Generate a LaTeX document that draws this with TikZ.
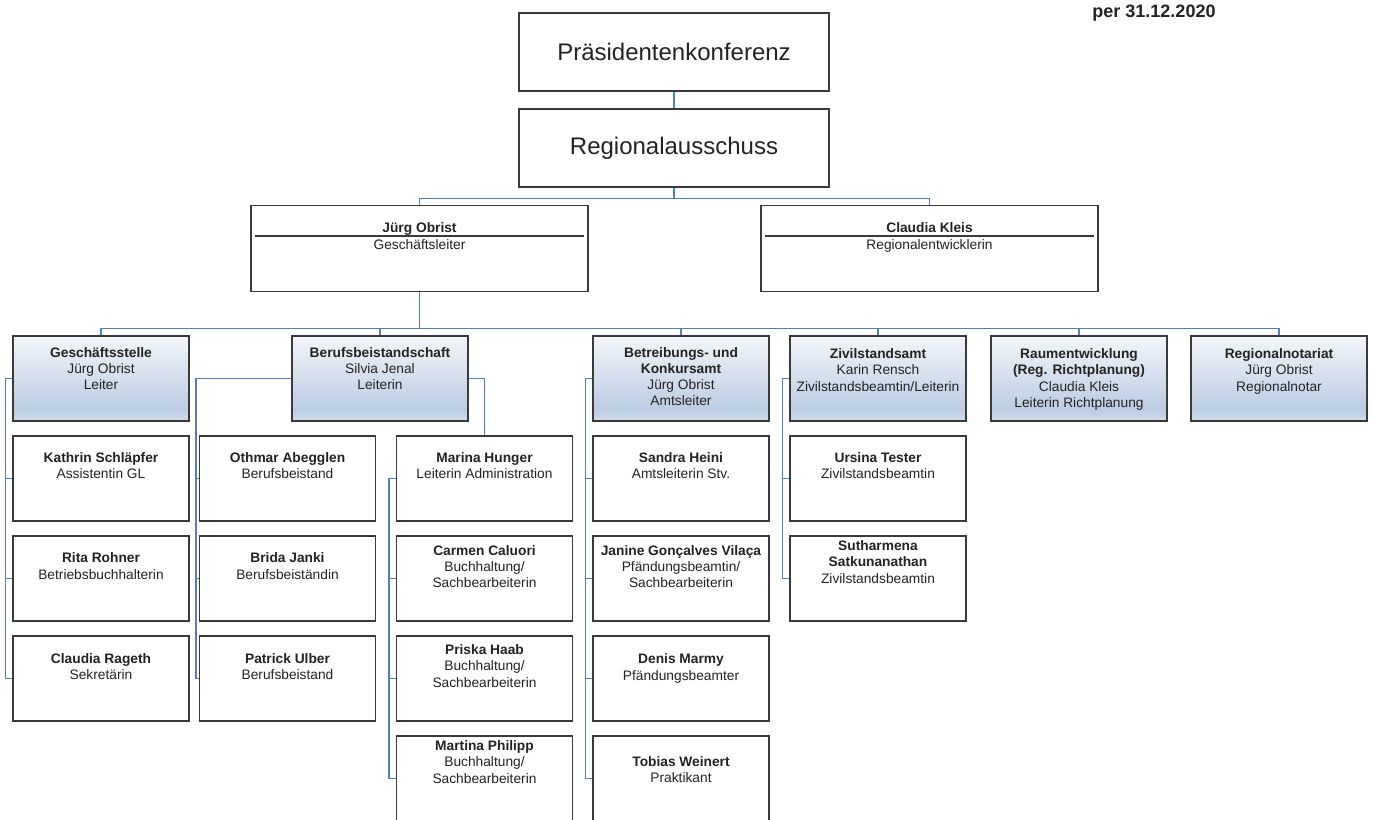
\documentclass[tikz,border=0pt]{standalone}
\usepackage{fontspec}
\setmainfont{Liberation Sans}

\definecolor{boxgray}{RGB}{58,58,58}
\definecolor{inkgray}{RGB}{35,35,35}
\definecolor{linkblue}{RGB}{79,129,189}
\definecolor{hdrtop}{RGB}{243,246,250}
\definecolor{hdrmid}{RGB}{188,204,226}
\definecolor{hdrbot}{RGB}{210,221,236}
\pgfdeclareverticalshading{hdrshade}{100bp}{color(0bp)=(hdrbot); color(25bp)=(hdrbot); color(32bp)=(hdrmid); color(75bp)=(hdrtop); color(100bp)=(hdrtop)}

\newcommand{\boxfont}{\fontsize{13.75}{16.3}\selectfont}
\newcommand{\rows}[1]{\begin{tabular}[t]{@{}c@{}}#1\end{tabular}}

\begin{document}
\begin{tikzpicture}[x=1pt, y=-1pt, text=inkgray,
    conn/.style={draw=linkblue, line width=1.5pt},
    chair/.style={draw=boxgray, line width=1.3pt, fill=white, minimum width=310pt, minimum height=78pt, font=\fontsize{24}{28}\selectfont},
    lead/.style={draw=boxgray, line width=1.3pt, fill=white, inner sep=0pt, minimum width=337pt, text height=27pt, text depth=59pt, font=\boxfont},
    dept/.style={draw=boxgray, line width=1.3pt, shading=hdrshade, inner sep=0pt, minimum width=176pt, font=\boxfont,
        /utils/exec={\pgfmathsetmacro\boxdp{85-#1}}, text height=#1pt, text depth=\boxdp pt},
    pers/.style={draw=boxgray, line width=1.3pt, fill=white, inner sep=0pt, minimum width=176pt, font=\boxfont,
        /utils/exec={\pgfmathsetmacro\boxdp{85-#1}}, text height=#1pt, text depth=\boxdp pt}]
    \useasboundingbox (0,0) rectangle (1373,819);

    \node[font=\bfseries\fontsize{18}{21}\selectfont] (stand) at (1154,13) {per 31.12.2020};

    \node[chair] (prk) at (674,52) {Präsidentenkonferenz};
    \node[chair] (reg) at (674,148) {Regionalausschuss};

    \node[lead] (jo) at (419.5,248.7) {\rows{\textbf{Jürg Obrist}\\Geschäftsleiter}};
    \node[lead] (ck) at (929.5,248.7) {\rows{\textbf{Claudia Kleis}\\Regionalentwicklerin}};
    \draw[boxgray, line width=1.3pt] ([xshift=5pt,yshift=12.7pt]jo.west) -- ([xshift=-5pt,yshift=12.7pt]jo.east);
    \draw[boxgray, line width=1.3pt] ([xshift=5pt,yshift=12.7pt]ck.west) -- ([xshift=-5pt,yshift=12.7pt]ck.east);

    % departments
    \node[dept=21] (gst) at (101,378.5) {\rows{\textbf{Geschäftsstelle}\\Jürg Obrist\\Leiter}};
    \node[dept=21] (bbs) at (380,378.5) {\rows{\textbf{Berufsbeistandschaft}\\Silvia Jenal\\Leiterin}};
    \node[dept=21] (bka) at (681,378.5) {\rows{\textbf{Betreibungs- und}\\\textbf{Konkursamt}\\Jürg Obrist\\Amtsleiter}};
    \node[dept=22.5] (zsa) at (878,378.5) {\rows{\textbf{Zivilstandsamt}\\Karin Rensch\\Zivilstandsbeamtin/Leiterin}};
    \node[dept=22.5] (rew) at (1079,378.5) {\rows{\textbf{Raumentwicklung}\\\textbf{(Reg. Richtplanung)}\\Claudia Kleis\\Leiterin Richtplanung}};
    \node[dept=22.5] (rno) at (1279,378.5) {\rows{\textbf{Regionalnotariat}\\Jürg Obrist\\Regionalnotar}};

    % Geschaeftsstelle
    \node[pers=26.5] (ks) at (101,478.5) {\rows{\textbf{Kathrin Schläpfer}\\Assistentin GL}};
    \node[pers=26.8] (rr) at (101,578.5) {\rows{\textbf{Rita Rohner}\\Betriebsbuchhalterin}};
    \node[pers=27.5] (cr) at (101,678.5) {\rows{\textbf{Claudia Rageth}\\Sekretärin}};

    % Berufsbeistandschaft
    \node[pers=26.5] (oa) at (287.5,478.5) {\rows{\textbf{Othmar Abegglen}\\Berufsbeistand}};
    \node[pers=26.8] (bj) at (287.5,578.5) {\rows{\textbf{Brida Janki}\\Berufsbeiständin}};
    \node[pers=27.5] (pu) at (287.5,678.5) {\rows{\textbf{Patrick Ulber}\\Berufsbeistand}};

    \node[pers=26.5] (mh) at (484.5,478.5) {\rows{\textbf{Marina Hunger}\\Leiterin Administration}};
    \node[pers=19.2] (cc) at (484.5,578.5) {\rows{\textbf{Carmen Caluori}\\Buchhaltung/\\Sachbearbeiterin}};
    \node[pers=18.5] (ph) at (484.5,678.5) {\rows{\textbf{Priska Haab}\\Buchhaltung/\\Sachbearbeiterin}};
    \node[pers=14.5] (mp) at (484.5,778.5) {\rows{\textbf{Martina Philipp}\\Buchhaltung/\\Sachbearbeiterin}};

    % Betreibungs- und Konkursamt
    \node[pers=26.5] (sh) at (681,478.5) {\rows{\textbf{Sandra Heini}\\Amtsleiterin Stv.}};
    \node[pers=19.2] (jg) at (681,578.5) {\rows{\textbf{Janine Gonçalves Vilaça}\\Pfändungsbeamtin/\\Sachbearbeiterin}};
    \node[pers=27.8] (dm) at (681,678.5) {\rows{\textbf{Denis Marmy}\\Pfändungsbeamter}};
    \node[pers=30.2] (tw) at (681,778.5) {\rows{\textbf{Tobias Weinert}\\Praktikant}};

    % Zivilstandsamt
    \node[pers=26.5] (ut) at (878,478.5) {\rows{\textbf{Ursina Tester}\\Zivilstandsbeamtin}};
    \node[pers=14.5] (ss) at (878,578.5) {\rows{\textbf{Sutharmena}\\\textbf{Satkunanathan}\\Zivilstandsbeamtin}};

    % connectors
    \draw[conn] (prk) -- (reg);
    \draw[conn] (reg.south) -- ++(0,11) -| (jo.north);
    \draw[conn] (reg.south) -- ++(0,11) -| (ck.north);
    \foreach \d in {gst,bbs,bka,zsa,rew,rno}
        \draw[conn] (jo.south) -- ++(0,36) -| (\d.north);

    \foreach \c in {ks,rr,cr}
        \draw[conn] (gst.west) -| ([xshift=-7pt]\c.west) -- (\c.west);
    \foreach \c in {oa,bj,pu}
        \draw[conn] (bbs.west) -| ([xshift=-3pt]\c.west) -- (\c.west);
    \draw[conn] (bbs.east) -| (mh.north);
    \foreach \c in {cc,ph,mp}
        \draw[conn] (mh.west) -| ([xshift=-7pt]\c.west) -- (\c.west);
    \foreach \c in {sh,jg,dm,tw}
        \draw[conn] (bka.west) -| ([xshift=-7pt]\c.west) -- (\c.west);
    \foreach \c in {ut,ss}
        \draw[conn] (zsa.west) -| ([xshift=-7pt]\c.west) -- (\c.west);
\end{tikzpicture}
\end{document}
